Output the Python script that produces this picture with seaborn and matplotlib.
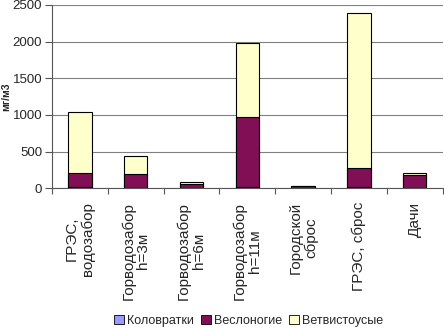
import numpy as np
import pandas as pd
import matplotlib
matplotlib.use('Agg')
import matplotlib.pyplot as plt
import seaborn as sns
from matplotlib.patches import Patch

# data (mg/m3)
categories = ["ГРЭС,\nводозабор", "Горводозабор\nh=3м", "Горводозабор\nh=6м",
              "Горводозабор\nh=11м", "Городской\nсброс", "ГРЭС, сброс", "Дачи"]
kolovratki = [15, 5, 3, 10, 5, 15, 5]
veslonogie = [190, 190, 55, 965, 25, 265, 180]
vetvistousye = [840, 240, 32, 1000, 3, 2105, 22]

series_names = ["Коловратки", "Веслоногие", "Ветвистоусые"]
colors = ["#9999FF", "#800F55", "#FFFFCC"]

sns.set_style("white")
plt.rcParams['font.family'] = ['Liberation Sans', 'DejaVu Sans']

df = pd.DataFrame({'cat': categories, 'k': kolovratki, 'v': veslonogie, 'b': vetvistousye})
df['top1'] = df['k']
df['top2'] = df['k'] + df['v']
df['top3'] = df['k'] + df['v'] + df['b']

fig = plt.figure(figsize=(4.44, 3.29), dpi=100)
ax = fig.add_axes([0.117, 0.428, 0.88, 0.557])

# stacked bars: draw cumulative heights from the tallest down
for col, c in zip(['top3', 'top2', 'top1'], colors[::-1]):
    sns.barplot(data=df, x='cat', y=col, color=c, saturation=1, width=0.42,
                edgecolor='black', linewidth=0.8, ax=ax, zorder=3)

ax.set_ylim(0, 2500)
ax.set_xlim(-0.5, len(categories) - 0.5)
ax.set_yticks([0, 500, 1000, 1500, 2000, 2500])
ax.yaxis.grid(True, color='#808080', linewidth=0.8)
ax.set_axisbelow(True)
for s in ['top', 'right']:
    ax.spines[s].set_visible(False)
ax.spines['left'].set_color('#555555')
ax.spines['bottom'].set_color('#555555')

ax.tick_params(axis='y', length=5, width=0.8, color='#555555', labelsize=9.5, pad=2, left=True)
ax.set_xticks(range(len(categories)))
ax.set_xticklabels(categories, rotation=90, fontsize=11, ha='center', va='top',
                   multialignment='center', linespacing=1.1)
ax.tick_params(axis='x', length=0, pad=10)
ax.set_xticks(np.arange(-0.5, len(categories), 1), minor=True)
ax.tick_params(axis='x', which='minor', length=4, width=0.8, color='#555555', bottom=True)

ax.set_xlabel('')
ax.set_ylabel('мг/м3', fontsize=7.5, fontweight='bold')
ax.yaxis.set_label_coords(-0.105, 0.5)

handles = [Patch(facecolor=c, edgecolor='black', linewidth=0.6) for c in colors]
fig.legend(handles, series_names, loc='center', bbox_to_anchor=(0.56, 0.025), ncol=3,
           frameon=False, fontsize=9, handlelength=0.8, handleheight=0.8,
           handletextpad=0.3, columnspacing=0.5, borderpad=0)

fig.savefig('out.png', dpi=100)
